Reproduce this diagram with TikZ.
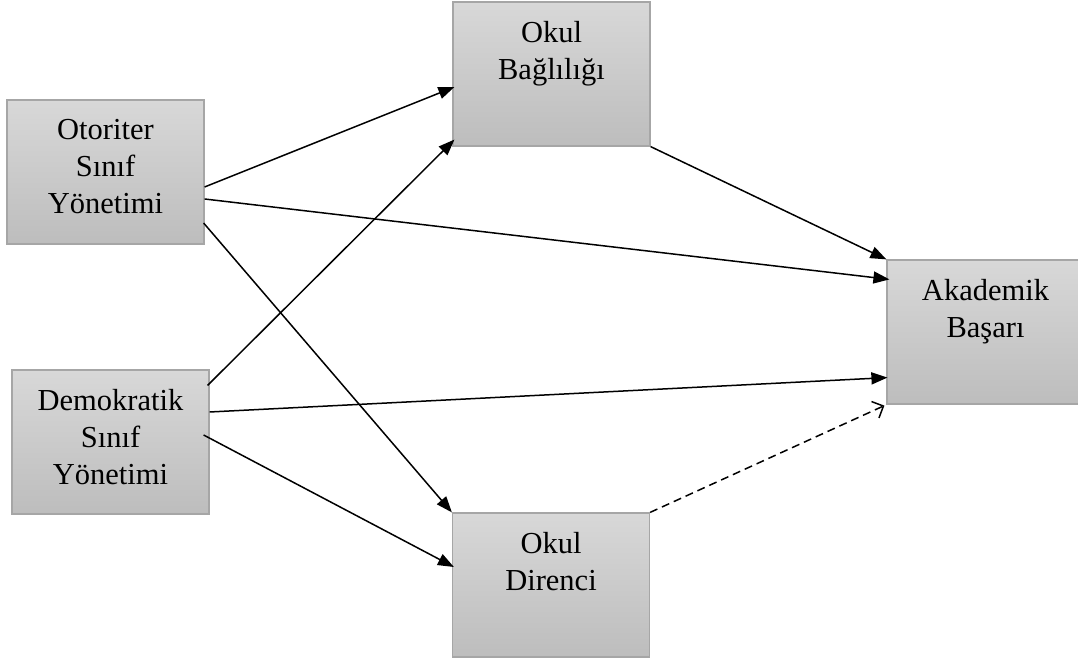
\documentclass[tikz,border=0pt]{standalone}
\usepackage{fontspec}
\setmainfont{Liberation Serif}
\usetikzlibrary{arrows.meta, positioning, calc}
\definecolor{boxtop}{RGB}{216,216,216}
\definecolor{boxbot}{RGB}{189,189,189}
\definecolor{boxline}{RGB}{166,166,166}

\begin{document}
\begin{tikzpicture}[x=1pt, y=1pt,
  box/.style={draw=boxline, line width=1.2pt, top color=boxtop, bottom color=boxbot,
    minimum width=197pt, minimum height=144pt, inner sep=0pt},
  boxtext/.style={anchor=north, yshift=-20pt, inner sep=0pt, align=center,
    font=\fontsize{30.5}{37}\selectfont},
  link/.style={line width=1.5pt, -{Triangle[length=16pt,width=12pt]}},
  dashlink/.style={line width=1.5pt, dash pattern=on 8pt off 5pt,
    -{Straight Barb[length=9pt,width=18pt]}}]
  \fill[white] (0,0) rectangle (1078,660);
  \useasboundingbox (0,0) rectangle (1078,660);

  % Boxes
  \node[box] (otoriter) at (105.5,488) {};
  \node[box] (demokratik) at (110.5,218) {};
  \node[box] (baglilik) at (551.5,586) {};
  \node[box] (direnc) at (551,75) {};
  \node[box] (basari) at (985.5,328) {};

  % Box texts, top aligned
  \node[boxtext] (otoriter-t) at (otoriter.north) {Otoriter\\Sınıf\\Yönetimi};
  \node[boxtext] (demokratik-t) at (demokratik.north) {Demokratik\\Sınıf\\Yönetimi};
  \node[boxtext] (baglilik-t) at (baglilik.north) {Okul\\Bağlılığı};
  \node[boxtext] (direnc-t) at (direnc.north) {Okul\\Direnci};
  \node[boxtext] (basari-t) at (basari.north) {Akademik\\Başarı};

  % Paths
  \draw[link] ([yshift=-15pt]otoriter.east) -- ([xshift=2pt,yshift=-13pt]baglilik.west);
  \draw[link] ([yshift=-27pt]otoriter.east) -- ([xshift=3pt,yshift=-20pt]basari.north west);
  \draw[link] ([xshift=-1pt,yshift=-51pt]otoriter.east) -- (direnc.north west);
  \draw[link] ([xshift=-2pt,yshift=-16pt]demokratik.north east) -- ([xshift=2pt,yshift=7pt]baglilik.south west);
  \draw[link] ([yshift=30pt]demokratik.east) -- ([xshift=1pt,yshift=27pt]basari.south west);
  \draw[link] ([xshift=-6pt,yshift=7pt]demokratik.east) -- ([xshift=2pt,yshift=18pt]direnc.west);
  \draw[link] (baglilik.south east) -- (basari.north west);
  \draw[dashlink] (direnc.north east) -- ([xshift=-2pt,yshift=-1pt]basari.south west);
\end{tikzpicture}
\end{document}
